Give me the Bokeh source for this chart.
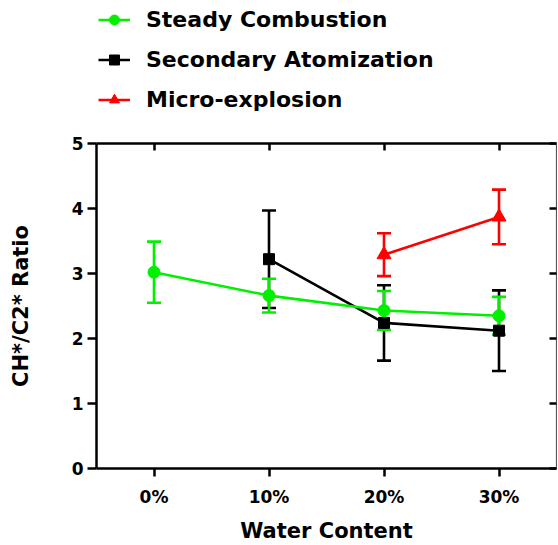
from bokeh.plotting import figure
from bokeh.layouts import column
from bokeh.models import (ColumnDataSource, Whisker, TeeHead, Legend, LegendItem,
                          LinearAxis, CategoricalAxis, FixedTicker, Range1d, FactorRange)
from bokeh.embed import file_html
from bokeh.resources import INLINE

categories = ["0%", "10%", "20%", "30%"]

steady_x = ["0%", "10%", "20%", "30%"]
steady_mean = [3.02, 2.66, 2.43, 2.35]
steady_err = [0.47, 0.26, 0.30, 0.29]

secondary_x = ["10%", "20%", "30%"]
secondary_mean = [3.22, 2.24, 2.12]
secondary_err = [0.75, 0.58, 0.62]

micro_x = ["20%", "30%"]
micro_mean = [3.29, 3.87]
micro_err = [0.33, 0.42]

series_labels = ["Steady Combustion", "Secondary Atomization", "Micro-explosion"]

y_ticks = [0, 1, 2, 3, 4, 5]

GREEN = "#00F000"
RED = "#FF0000"
BLACK = "#000000"
FONT = "DejaVu Sans"
LW = 2.6

TOP_H = 120
W = 557

# ---------------- main plot ----------------
p = figure(width=W, height=545 - TOP_H, output_backend="svg", toolbar_location=None,
           x_range=FactorRange(factors=categories, range_padding=0),
           y_range=Range1d(0, 5),
           min_border_left=96, min_border_right=1, min_border_top=143 - TOP_H,
           min_border_bottom=77,
           x_axis_location=None, y_axis_location=None)
p.grid.visible = False
p.outline_line_color = None


def src(x, m, e):
    return ColumnDataSource(dict(x=x, y=m, up=[a + b for a, b in zip(m, e)],
                                 lo=[a - b for a, b in zip(m, e)]))


s_steady = src(steady_x, steady_mean, steady_err)
s_sec = src(secondary_x, secondary_mean, secondary_err)
s_micro = src(micro_x, micro_mean, micro_err)


def whisk(s, c):
    w = Whisker(source=s, base="x", upper="up", lower="lo", line_color=c, line_width=LW,
                upper_head=TeeHead(size=14, line_color=c, line_width=LW),
                lower_head=TeeHead(size=14, line_color=c, line_width=LW))
    p.add_layout(w)


whisk(s_sec, BLACK)
whisk(s_micro, RED)
whisk(s_steady, GREEN)

p.line("x", "y", source=s_sec, line_color=BLACK, line_width=LW)
p.scatter("x", "y", source=s_sec, marker="square", size=11, fill_color=BLACK, line_color=BLACK)
p.line("x", "y", source=s_micro, line_color=RED, line_width=LW)
p.scatter("x", "y", source=s_micro, marker="triangle", size=14, fill_color=RED, line_color=RED)
p.line("x", "y", source=s_steady, line_color=GREEN, line_width=LW)
p.scatter("x", "y", source=s_steady, marker="circle", size=12, fill_color=GREEN, line_color=GREEN)

yl = LinearAxis(ticker=FixedTicker(ticks=y_ticks), axis_label="CH*/C2* Ratio")
yl.axis_line_width = 2.5
yl.major_tick_line_width = 2.5
yl.major_tick_out = 9
yl.major_tick_in = 0
yl.minor_tick_line_color = None
yl.major_label_text_font = FONT
yl.major_label_text_font_style = "bold"
yl.major_label_text_font_size = "17px"
yl.major_label_text_color = BLACK
yl.major_label_standoff = 4
yl.axis_label_text_font = FONT
yl.axis_label_text_font_style = "bold"
yl.axis_label_text_font_size = "21px"
yl.axis_label_text_color = BLACK
yl.axis_label_standoff = 36
p.add_layout(yl, "left")

xb = CategoricalAxis(axis_label="Water Content")
xb.axis_line_width = 2.5
xb.major_tick_line_width = 2.5
xb.major_tick_out = 8
xb.major_tick_in = 0
xb.major_label_text_font = FONT
xb.major_label_text_font_style = "bold"
xb.major_label_text_font_size = "17px"
xb.major_label_text_color = BLACK
xb.major_label_standoff = 10
xb.axis_label_text_font = FONT
xb.axis_label_text_font_style = "bold"
xb.axis_label_text_font_size = "21px"
xb.axis_label_text_color = BLACK
xb.axis_label_standoff = 9
p.add_layout(xb, "below")

xt = CategoricalAxis()
xt.axis_line_width = 2.5
xt.major_tick_line_width = 2.5
xt.major_tick_out = 0
xt.major_tick_in = 7
xt.major_label_text_font_size = "0px"
xt.major_label_text_alpha = 0
xt.major_label_standoff = 0
p.add_layout(xt, "above")

yr = LinearAxis(ticker=FixedTicker(ticks=y_ticks))
yr.axis_line_width = 1.2
yr.axis_line_color = "#555555"
yr.major_tick_line_width = 2.5
yr.major_tick_out = 0
yr.major_tick_in = 7
yr.minor_tick_line_color = None
yr.major_label_text_font_size = "0px"
yr.major_label_text_alpha = 0
yr.major_label_standoff = 0
p.add_layout(yr, "right")

# ---------------- legend strip ----------------
lg = figure(width=W, height=TOP_H, output_backend="svg", toolbar_location=None,
            x_range=Range1d(0, 1), y_range=Range1d(0, 1),
            min_border_left=0, min_border_right=0, min_border_top=0, min_border_bottom=0,
            x_axis_location=None, y_axis_location=None)
lg.grid.visible = False
lg.outline_line_color = None

nan = float("nan")
g1 = lg.line(x=[nan], y=[nan], line_color=GREEN, line_width=LW)
g1m = lg.scatter(x=[nan], y=[nan], marker="circle", size=12, fill_color=GREEN, line_color=GREEN)
g2 = lg.line(x=[nan], y=[nan], line_color=BLACK, line_width=LW)
g2m = lg.scatter(x=[nan], y=[nan], marker="square", size=11, fill_color=BLACK, line_color=BLACK)
g3 = lg.line(x=[nan], y=[nan], line_color=RED, line_width=LW)
g3m = lg.scatter(x=[nan], y=[nan], marker="triangle", size=14, fill_color=RED, line_color=RED)

legend = Legend(items=[
    LegendItem(label=series_labels[0], renderers=[g1, g1m]),
    LegendItem(label=series_labels[1], renderers=[g2, g2m]),
    LegendItem(label=series_labels[2], renderers=[g3, g3m]),
], location=(2, 8))
legend.label_text_font = FONT
legend.label_text_font_style = "bold"
legend.label_text_font_size = "22px"
legend.label_text_color = BLACK
legend.glyph_width = 32
legend.glyph_height = 25
legend.label_height = 25
legend.label_standoff = 16
legend.spacing = 15
legend.padding = 0
legend.margin = 0
legend.border_line_color = None
legend.background_fill_alpha = 0
lg.add_layout(legend, "center")

layout = column(lg, p, spacing=0)
open("out.html", "w").write(file_html(layout, INLINE))
